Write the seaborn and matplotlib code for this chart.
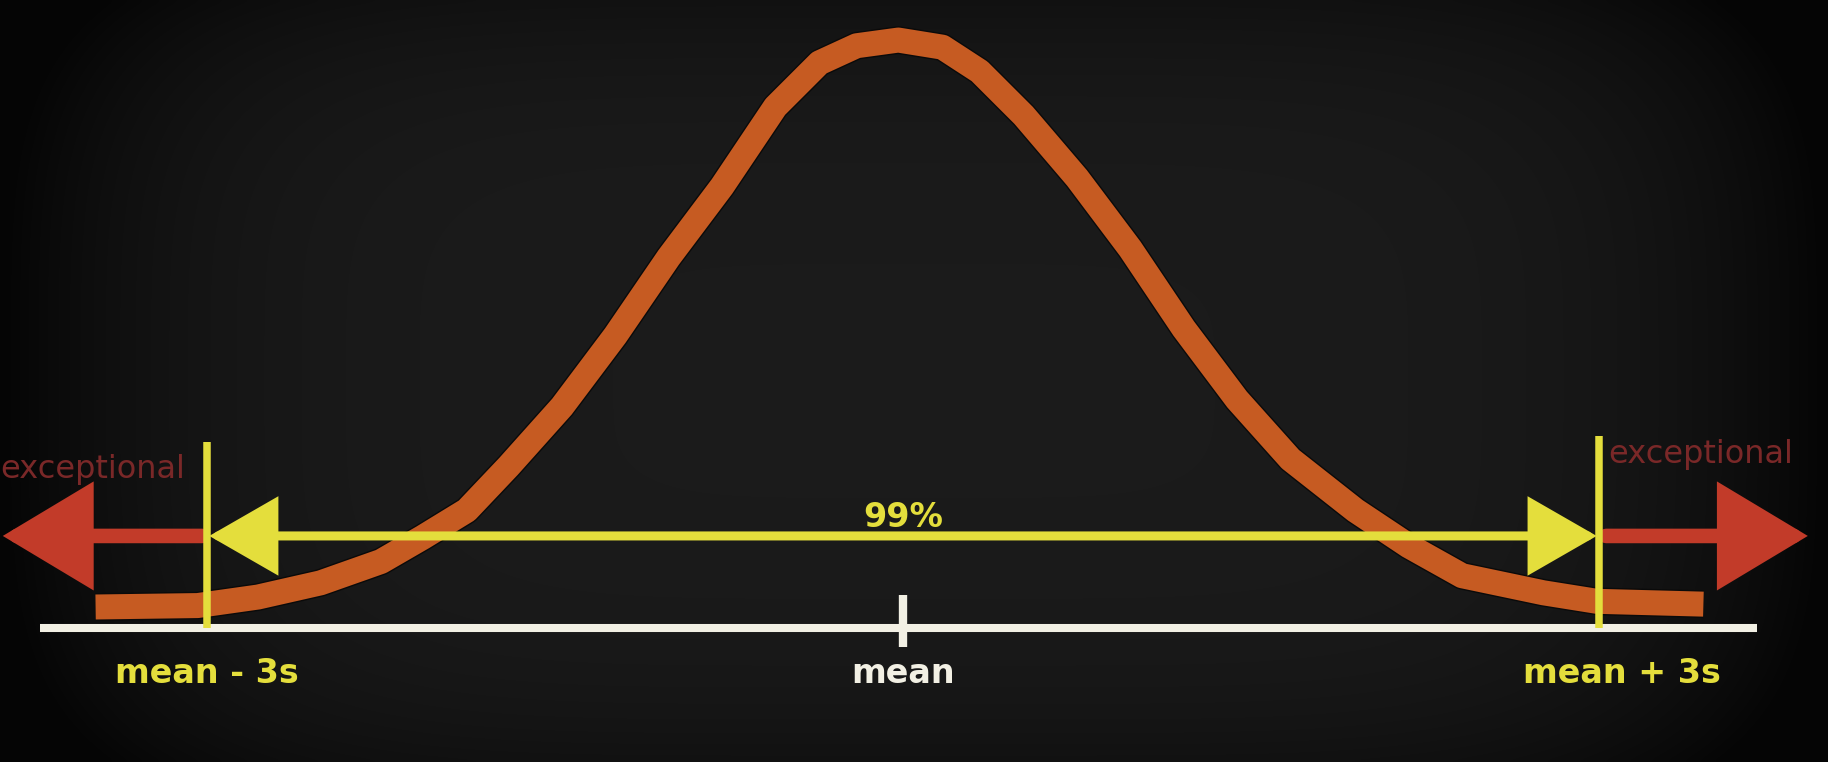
import numpy as np
import pandas as pd
import matplotlib
matplotlib.use("Agg")
import matplotlib.pyplot as plt
import matplotlib.patheffects as pe
from matplotlib.colors import LinearSegmentedColormap
import seaborn as sns

# ---------------- data (x in standard deviations, y = density) ----------------
curve_x = [-3.48, -3.04, -2.78, -2.51, -2.25, -2.07, -1.88, -1.70, -1.47, -1.24,
           -1.01, -0.78, -0.55, -0.36, -0.20, -0.02, 0.17, 0.33, 0.52, 0.75,
           0.98, 1.21, 1.44, 1.67, 1.95, 2.18, 2.41, 2.76, 2.99, 3.45]
curve_y = [0.000, 0.001, 0.007, 0.017, 0.032, 0.049, 0.068, 0.099, 0.141, 0.191,
           0.246, 0.296, 0.352, 0.383, 0.395, 0.399, 0.394, 0.377, 0.346, 0.302,
           0.252, 0.196, 0.146, 0.104, 0.068, 0.043, 0.022, 0.010, 0.004, 0.002]

limit_sigmas = [-3, 3]                 # mean - 3s, mean + 3s
limit_labels = ["mean - 3s", "mean + 3s"]
limit_label_x = [-3.0, 3.1]
mean_label = "mean"
coverage_label = "99%"
outside_label = "exceptional"
outside_label_x = [-3.095, 3.039]
outside_label_y = [0.091, 0.101]
outer_arrow_tip = [-3.88, 3.90]

# ---------------- style ----------------
BG = "#181818"
ORANGE = "#C65B22"
YELLOW = "#E4DE3C"
RED = "#C23B29"
WHITE = "#F2F0E4"
DARKRED = "#7A2828"

sns.set_theme(style="dark", rc={"axes.facecolor": BG, "figure.facecolor": BG})
plt.rcParams["font.family"] = ["DejaVu Sans"]

fig = plt.figure(figsize=(18.28, 7.62), dpi=100)
ax = fig.add_axes([0, 0, 1, 1])
ax.set_facecolor(BG)

# subtle vignette background
gx = np.linspace(-1, 1, 400)
gy = np.linspace(-1, 1, 170)
GX, GY = np.meshgrid(gx, gy)
vig = np.clip(1 - 0.7 * (np.abs(GX) ** 5) - 0.3 * (np.abs(GY) ** 4), 0, 1)
bg_cmap = LinearSegmentedColormap.from_list("bg", ["#050505", "#1b1b1b"])
ax.imshow(vig, extent=[0, 1, 0, 1], transform=ax.transAxes, cmap=bg_cmap,
          vmin=0.3, vmax=1.0, aspect="auto", zorder=0, interpolation="bicubic")

AXIS_Y = -0.0148
ARROW_Y = 0.050
VLINE_TOP = [0.116, 0.120]
outline = [pe.Stroke(linewidth=20, foreground="#0a0a0a"), pe.Normal()]

# bell curve
df = pd.DataFrame({"x": curve_x, "y": curve_y})
sns.lineplot(data=df, x="x", y="y", ax=ax, color=ORANGE, linewidth=18,
             sort=False, solid_capstyle="butt", solid_joinstyle="round",
             zorder=2, path_effects=outline)

# horizontal axis line and mean tick
ax.hlines(AXIS_Y, -3.72, 3.68, color=WHITE, linewidth=5.8, zorder=3,
          capstyle="butt")
ax.vlines(0, AXIS_Y - 0.0135, AXIS_Y + 0.0235, color=WHITE, linewidth=6.0,
          zorder=3, capstyle="butt")

# yellow +/- 3s verticals
for xv, top in zip(limit_sigmas, VLINE_TOP):
    ax.vlines(xv, AXIS_Y, top, color=YELLOW, linewidth=5.4, zorder=5,
              capstyle="butt")

# yellow 99% double arrow
ax.annotate("", xy=(limit_sigmas[0] + 0.01, ARROW_Y),
            xytext=(limit_sigmas[1] - 0.01, ARROW_Y),
            arrowprops=dict(arrowstyle="<|-|>,head_length=40,head_width=23",
                            color=YELLOW, lw=6.5, shrinkA=0, shrinkB=0,
                            mutation_scale=1, joinstyle="miter"),
            zorder=4)

# red "exceptional" arrows
for xv, tip in zip(limit_sigmas, outer_arrow_tip):
    start = xv + (0.03 if xv > 0 else -0.02)
    ax.annotate("", xy=(tip, ARROW_Y), xytext=(start, ARROW_Y),
                arrowprops=dict(arrowstyle="-|>,head_length=50,head_width=30",
                                color=RED, lw=10.5, shrinkA=0, shrinkB=0,
                                mutation_scale=1, joinstyle="miter"),
                zorder=4)

# texts
ax.text(0, 0.0563, coverage_label, color=YELLOW, fontsize=24, fontweight="bold",
        ha="center", va="baseline", zorder=6)
ax.text(0, -0.0535, mean_label, color=WHITE, fontsize=24, fontweight="bold",
        ha="center", va="baseline", zorder=6)
for lx, lab in zip(limit_label_x, limit_labels):
    ax.text(lx, -0.0535, lab, color=YELLOW, fontsize=24, fontweight="bold",
            ha="center", va="baseline", zorder=6)
for lx, ly, ha in zip(outside_label_x, outside_label_y, ["right", "left"]):
    ax.text(lx, ly, outside_label, color=DARKRED, fontsize=23, ha=ha,
            va="baseline", zorder=6)

ax.set_xlim(-3.892, 3.987)
ax.set_ylim(-0.1091, 0.4272)
ax.set_axis_off()

fig.savefig("out.png", dpi=100, facecolor=BG)
